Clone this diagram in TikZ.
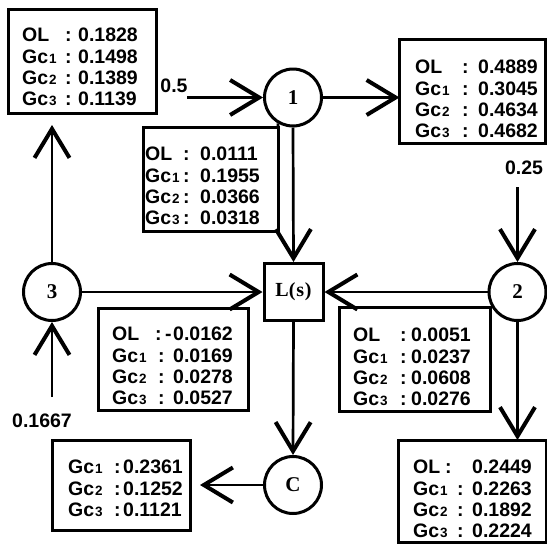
\documentclass[tikz,border=0pt]{standalone}
\usepackage{fontspec}
\setmainfont{Liberation Sans}
\newfontfamily\serf{Liberation Serif}
\usetikzlibrary{arrows.meta,calc}
\newcommand\gcx[1]{Gc\kern0.8pt{\fontsize{13.5}{13.5}\selectfont #1}}
\newcommand\rw[5]{\makebox[#1pt][l]{#3}\makebox[#2pt][l]{#4}#5}
\begin{document}
\begin{tikzpicture}[x=1pt,y=-1pt,
  bx/.style={draw, rectangle, line width=3pt, inner sep=0pt, outer sep=0pt, anchor=north west},
  txt/.style={font=\bfseries\fontsize{19.5}{21.3}\selectfont, align=left, inner sep=0pt, anchor=north west},
  circ/.style={draw, circle, line width=3pt, minimum size=57pt, inner sep=0pt, font=\serf\bfseries\fontsize{21}{21}\selectfont},
  lsbox/.style={draw, rectangle, line width=3pt, minimum width=59pt, minimum height=57pt, inner sep=0pt, font=\serf\bfseries\fontsize{20}{20}\selectfont},
  con/.style={line width=2.7pt},
  arr/.style={con, -{Straight Barb[length=29pt, width=35pt, line width=4pt]}},
  lbl/.style={font=\bfseries\fontsize{19.5}{19.5}\selectfont, inner sep=0pt}]
\useasboundingbox (0,0) rectangle (547,544);

% circles and L(s)
\node[circ] (c1) at (293,97.5) {1};
\node[circ] (c2) at (517.5,292) {2};
\node[circ] (c3) at (52,292) {3};
\node[circ] (cC) at (293,485) {C};
\node[lsbox] (L) at (293.5,292) {L(\kern0.8pt s\kern0.8pt)};

% boxes
\node[bx, minimum width=148pt, minimum height=104pt] (A) at (8.5,9.5) {};
\node[bx, minimum width=146pt, minimum height=104pt] (B) at (399.5,39.5) {};
\node[bx, minimum width=134.5pt, minimum height=103.5pt] (C) at (143.5,127.5) {};
\node[bx, minimum width=151pt, minimum height=104pt] (D) at (339,307) {};
\node[bx, minimum width=150pt, minimum height=102pt] (E) at (98,308) {};
\node[bx, minimum width=138pt, minimum height=90pt] (F) at (52,440) {};
\node[bx, minimum width=148pt, minimum height=102pt] (G) at (398,440) {};

% box texts
\node[txt] (At) at (22,28) {\rw{43}{13}{OL}{:}{0.1828}\\\rw{43}{13}{\gcx1}{:}{0.1498}\\\rw{43}{13}{\gcx2}{:}{0.1389}\\\rw{43}{13}{\gcx3}{:}{0.1139}};
\node[txt] (Bt) at (415,60) {\rw{47}{16}{OL}{:}{0.4889}\\\rw{47}{16}{\gcx1}{:}{0.3045}\\\rw{47}{16}{\gcx2}{:}{0.4634}\\\rw{47}{16}{\gcx3}{:}{0.4682}};
\node[txt] (Ct) at (145,147) {\rw{38}{17}{OL}{:}{0.0111}\\\rw{38}{17}{\gcx1}{:}{0.1955}\\\rw{38}{17}{\gcx2}{:}{0.0366}\\\rw{38}{17}{\gcx3}{:}{0.0318}};
\node[txt] (Dt) at (353,328) {\rw{47}{11}{OL}{:}{0.0051}\\\rw{47}{11}{\gcx1}{:}{0.0237}\\\rw{47}{11}{\gcx2}{:}{0.0608}\\\rw{47}{11}{\gcx3}{:}{0.0276}};
\node[txt] (Et) at (112,327) {\rw{43}{18}{OL}{:\kern3.5pt-}{0.0162}\\\rw{46}{15}{\gcx1}{:}{0.0169}\\\rw{46}{15}{\gcx2}{:}{0.0278}\\\rw{46}{15}{\gcx3}{:}{0.0527}};
\node[txt] (Ft) at (68,460) {\rw{46}{9}{\gcx1}{:}{0.2361}\\\rw{46}{9}{\gcx2}{:}{0.1252}\\\rw{46}{9}{\gcx3}{:}{0.1121}};
\node[txt] (Gt) at (413,460) {\rw{32}{27}{OL}{:}{0.2449}\\\rw{44}{15}{\gcx1}{:}{0.2263}\\\rw{44}{15}{\gcx2}{:}{0.1892}\\\rw{44}{15}{\gcx3}{:}{0.2224}};

% input labels
\node[lbl] (l1) at (174,86) {0.5};
\node[lbl] (l2) at (524,168) {0.25};
\node[lbl] (l3) at (42,421) {0.1667};

% free ends
\coordinate (i1) at (187,97.5);
\coordinate (i2) at (517.5,187);
\coordinate (i3) at (52,397);
\coordinate (a3) at (52,125);
\coordinate (fC) at (200,485);

% connectors
\draw[arr] (i1) -- (c1.west);
\draw[arr] (c1.east) -- (c1.east -| B.west);
\draw[arr] (c1.south) -- (L.north);
\draw[con] (C.north east) -- (c1.-120);
\draw[arr] (i2) -- (c2.north);
\draw[arr] (c2.west) -- (L.east);
\draw[arr] (c2.south) -- (c2.south |- G.north);
\draw[arr] (c3.north) -- (a3);
\draw[arr] (i3) -- (c3.south);
\draw[arr] (c3.east) -- (L.west);
\draw[arr] (L.south) -- (cC.north);
\draw[arr] (cC.west) -- (fC);
\end{tikzpicture}
\end{document}
